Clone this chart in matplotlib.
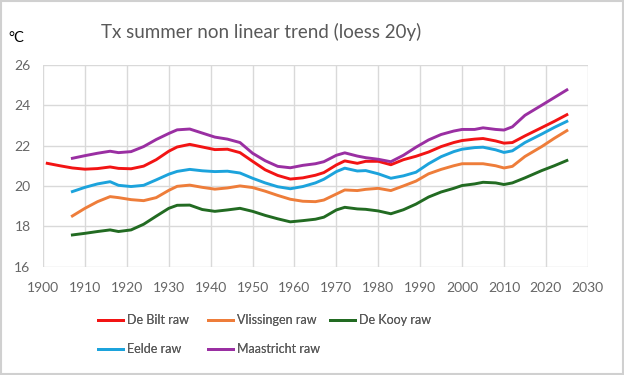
import matplotlib.pyplot as plt
from matplotlib.patches import Rectangle

# smoothed summer Tx (loess 20y)
years = [1907, 1910, 1913, 1916, 1918, 1921, 1924, 1927, 1930, 1932, 1935, 1938,
         1941, 1944, 1947, 1950, 1953, 1956, 1959, 1962, 1965, 1967, 1970, 1972,
         1975, 1977, 1980, 1983, 1986, 1989, 1992, 1995, 1998, 2000, 2003, 2005,
         2008, 2010, 2012, 2015, 2019, 2022, 2025]
years_de_bilt = [1901, 1904] + years

de_bilt = [21.12, 21.0, 20.89, 20.83, 20.86, 20.94, 20.87, 20.85, 20.98, 21.3, 21.72,
           21.93, 22.06, 21.93, 21.8, 21.82, 21.65, 21.22, 20.8, 20.52, 20.34, 20.4,
           20.53, 20.66, 21.04, 21.24, 21.12, 21.22, 21.22, 21.05, 21.3, 21.47, 21.68,
           21.95, 22.15, 22.25, 22.32, 22.35, 22.23, 22.12, 22.15, 22.48, 22.89, 23.2,
           23.53]
vlissingen = [18.51, 18.89, 19.22, 19.47, 19.42, 19.32, 19.27, 19.42, 19.78, 19.98,
              20.04, 19.93, 19.84, 19.9, 20.0, 19.92, 19.74, 19.53, 19.34, 19.24, 19.22,
              19.3, 19.6, 19.8, 19.77, 19.83, 19.88, 19.77, 20.0, 20.24, 20.6, 20.82,
              21.0, 21.1, 21.1, 21.1, 21.0, 20.89, 20.97, 21.46, 21.95, 22.36, 22.74]
de_kooy = [17.57, 17.65, 17.74, 17.82, 17.74, 17.82, 18.1, 18.5, 18.89, 19.04, 19.05,
           18.83, 18.74, 18.81, 18.89, 18.74, 18.54, 18.37, 18.22, 18.28, 18.35, 18.45,
           18.81, 18.94, 18.86, 18.84, 18.76, 18.62, 18.82, 19.1, 19.45, 19.7, 19.88,
           20.02, 20.1, 20.18, 20.15, 20.07, 20.15, 20.4, 20.76, 21.0, 21.26]
eelde = [19.72, 19.93, 20.1, 20.21, 20.03, 19.97, 20.03, 20.3, 20.58, 20.72, 20.82,
         20.75, 20.71, 20.73, 20.64, 20.38, 20.15, 19.96, 19.86, 19.97, 20.15, 20.33,
         20.71, 20.88, 20.74, 20.76, 20.6, 20.38, 20.5, 20.68, 21.1, 21.45, 21.7, 21.82,
         21.9, 21.92, 21.79, 21.66, 21.74, 22.15, 22.57, 22.9, 23.2]
maastricht = [21.37, 21.5, 21.62, 21.72, 21.65, 21.7, 21.95, 22.3, 22.6, 22.78, 22.82,
              22.62, 22.42, 22.32, 22.15, 21.62, 21.25, 20.97, 20.9, 21.02, 21.1, 21.2,
              21.52, 21.64, 21.48, 21.4, 21.32, 21.2, 21.52, 21.92, 22.28, 22.55, 22.72,
              22.8, 22.8, 22.88, 22.8, 22.77, 22.93, 23.5, 24.0, 24.38, 24.76]

fig = plt.figure(figsize=(6.24, 3.75), dpi=100)
ax = fig.add_axes([0.069, 0.289, 0.873, 0.538])

lw = 2.1
l1, = ax.plot(years_de_bilt, de_bilt, color='#F21414', lw=lw, label='De Bilt raw')
l2, = ax.plot(years, vlissingen, color='#EE7D3A', lw=lw, label='Vlissingen raw')
l3, = ax.plot(years, de_kooy, color='#226B22', lw=lw, label='De Kooy raw')
l4, = ax.plot(years, eelde, color='#1CA3DC', lw=lw, label='Eelde raw')
l5, = ax.plot(years, maastricht, color='#9A2FA2', lw=lw, label='Maastricht raw')

ax.set_xlim(1900, 2030)
ax.set_ylim(16, 26)
ax.set_xticks(range(1900, 2031, 10))
ax.set_yticks(range(16, 27, 2))
ax.grid(True, color='#D9D9D9', lw=1)
ax.set_axisbelow(True)
for s in ax.spines.values():
    s.set_visible(False)
ax.tick_params(length=0, labelsize=10, labelcolor='#666666')
ax.tick_params(axis='x', pad=11)
ax.tick_params(axis='y', pad=9)
for lab in ax.get_xticklabels() + ax.get_yticklabels():
    lab.set_family('Lato')

fig.text(0.418, 0.915, 'Tx summer non linear trend (loess 20y)', ha='center',
         va='center', fontsize=13.5, color='#595959', family='Lato')
fig.text(0.013, 0.888, '°C', fontsize=10.5, color='black', family='Lato')

# Excel style legend: fixed column starts
columns = [([l1, l4], ['De Bilt raw', 'Eelde raw'], 98),
           ([l2, l5], ['Vlissingen raw', 'Maastricht raw'], 208),
           ([l3], ['De Kooy raw'], 330)]
for handles, labels, x0 in columns:
    leg = fig.legend(handles, labels, loc='upper left', bbox_to_anchor=(x0 / 624, 1 - 314 / 375),
                     frameon=False, borderpad=0, borderaxespad=0, handlelength=2.0,
                     handletextpad=0.3, labelspacing=1.35,
                     prop={'family': 'Lato', 'size': 9}, labelcolor='#595959')
    fig.add_artist(leg)

fig.patches.append(Rectangle((0.001, 0.002), 0.997, 0.995, transform=fig.transFigure,
                             fill=False, edgecolor='#D0D0D0', lw=1.5))

fig.savefig('out.png', dpi=100)
